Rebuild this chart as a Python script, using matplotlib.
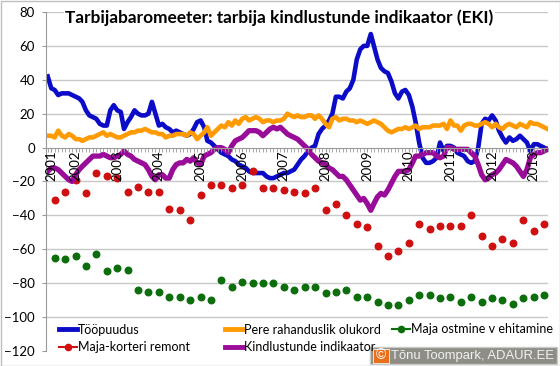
import pandas as pd
import matplotlib.pyplot as plt
import matplotlib.dates as mdates
from matplotlib.lines import Line2D
from matplotlib.patches import Rectangle

plt.rcParams['font.family'] = ['Lato', 'DejaVu Sans']

############# Data #############

# monthly series, May 2001 .. May 2013
months = pd.date_range('2001-05-01', periods=145, freq='MS')

toopuudus = [42, 35, 34, 31, 32, 32, 32, 31, 30, 29,
             27, 22, 19, 18, 17, 14, 13, 13, 22, 25,
             22, 21, 11, 15, 18, 22, 20, 19, 19, 20,
             27, 20, 13, 14, 12, 11, 9, 10, 9, 8,
             7, 8, 11, 15, 16, 12, 4, 3, 1, -1,
             -3, -4, -5, -7, -8, -10, -11, -12, -14, -15,
             -15, -15, -15, -17, -18, -18, -17, -16, -15, -15,
             -14, -13, -10, -7, -5, -2, 0, 1, 8, 11,
             13, 16, 20, 30, 30, 29, 33, 35, 40, 52,
             58, 60, 60, 67, 60, 52, 47, 45, 44, 39,
             32, 29, 33, 34, 31, 24, 15, 3, -6, -9,
             -9, -8, -6, 3, -2, 1, 1, 0, -3, -4,
             -5, -8, -9, -8, 0, 14, 17, 16, 19, 16,
             10, 6, 3, 6, 4, 5, 7, 5, 3, -2,
             2, 2, 1, 0, -1]

pere = [7, 7, 6, 10, 7, 6, 8, 7, 5, 5,
        4, 5, 6, 6, 7, 8, 9, 7, 8, 7,
        6, 6, 7, 8, 9, 9, 10, 10, 11, 10,
        9, 9, 8, 8, 6, 7, 7, 8, 8, 8,
        7, 9, 8, 5, 7, 9, 12, 7, 9, 11,
        13, 12, 15, 13, 16, 14, 17, 18, 16, 17,
        18, 17, 15, 16, 16, 15, 16, 16, 17, 20,
        19, 18, 19, 18, 18, 19, 19, 17, 19, 17,
        14, 12, 17, 18, 16, 17, 17, 16, 16, 15,
        16, 15, 14, 15, 16, 15, 14, 12, 10, 9,
        10, 11, 11, 12, 11, 12, 13, 11, 12, 12,
        12, 13, 13, 13, 14, 11, 16, 13, 13, 10,
        13, 14, 14, 13, 13, 14, 15, 14, 12, 14,
        12, 11, 13, 14, 13, 12, 14, 13, 12, 15,
        14, 14, 13, 12, 11]

kindlustunne = [-14, -12, -12, -13, -15, -17, -19, -20, -16, -13,
                -11, -9, -7, -5, -5, -5, -4, -5, -6, -6,
                -5, -4, -2, -4, -5, -7, -8, -9, -10, -13,
                -17, -19, -16, -16, -18, -18, -13, -10, -9, -9,
                -7, -8, -6, -9, -10, -5, -4, -3, -1, 0,
                0, -1, -3, 1, 4, 5, 6, 8, 10, 10,
                10, 9, 7, 9, 11, 12, 11, 12, 10, 8,
                7, 6, 5, 3, 1, -1, -4, -6, -8, -9,
                -10, -12, -13, -15, -17, -17, -19, -22, -25, -28,
                -31, -30, -33, -37, -33, -29, -27, -28, -25, -21,
                -17, -14, -14, -14, -13, -9, -5, -5, -4, -3,
                -3, -3, -5, -6, -5, 0, 0, -1, -1, -1,
                -1, -1, -3, -5, -10, -16, -19, -18, -16, -15,
                -13, -10, -7, -8, -9, -11, -14, -17, -13, -6,
                -4, -3, -3, -2, -1]

# quarterly series, Jul 2001 .. Apr 2013
quarters = pd.date_range('2001-07-01', periods=48, freq='3MS')

maja_ostmine = [-65, -66, -64, -70, -63, -73, -71, -72, -84, -85,
                -85, -88, -88, -90, -88, -90, -78, -82, -79, -80,
                -80, -80, -82, -84, -82, -82, -86, -85, -84, -88,
                -88, -91, -93, -93, -90, -87, -87, -89, -88, -91,
                -88, -91, -89, -90, -92, -89, -88, -87]

remont = [-31, -26, -19, -27, -15, -17, -18, -26, -23, -26,
          -26, -36, -37, -43, -28, -22, -22, -24, -22, -14,
          -24, -24, -25, -26, -27, -24, -37, -33, -40, -45,
          -47, -58, -64, -61, -56, -45, -48, -46, -46, -46,
          -40, -52, -58, -54, -56, -43, -49, -45]

year_ticks = pd.to_datetime(['2001-06-01'] + [f'{y}-01-01' for y in range(2002, 2014)])
year_labels = [str(y) for y in range(2001, 2014)]

############# Plot #############

c_blue = '#0B0BC8'
c_orange = '#FF9A00'
c_purple = '#990C99'
c_red = '#D01010'
c_green = '#0B6E0B'
c_axis = '#9A9A9A'

fig = plt.figure(figsize=(5.6, 3.66), dpi=100)
ax = fig.add_axes([46 / 560, 1 - 351 / 366, 502 / 560, 339 / 366])

for g in range(-100, 81, 20):
    if g != 0:
        ax.axhline(g, color='#C8C8C8', lw=1, zorder=1)

ax.plot(months, toopuudus, color=c_blue, lw=3.3, solid_joinstyle='round', zorder=2)
ax.plot(months, pere, color=c_orange, lw=3.3, solid_joinstyle='round', zorder=2)
ax.plot(quarters, maja_ostmine, ls='none', marker='o', ms=4.7, color=c_green, zorder=2)
ax.plot(quarters, remont, ls='none', marker='o', ms=4.7, color=c_red, zorder=2)
ax.plot(months, kindlustunne, color=c_purple, lw=3.8, solid_joinstyle='round', zorder=2)

ax.set_ylim(-120, 80)
ax.set_yticks(range(-120, 81, 20))
ax.set_xlim(pd.Timestamp('2001-04-16'), pd.Timestamp('2013-05-05'))
ax.set_xticks(year_ticks)
ax.set_xticklabels(year_labels)
ax.xaxis.set_minor_locator(mdates.MonthLocator())
ax.xaxis.set_zorder(3)  # year labels sit on top of the lines

ax.spines['bottom'].set_position(('data', 0))
ax.spines['top'].set_visible(False)
ax.spines['right'].set_visible(False)
for s in ['bottom', 'left']:
    ax.spines[s].set_color(c_axis)
    ax.spines[s].set_zorder(2.5)

ax.tick_params(axis='x', which='both', length=3, color=c_axis, pad=-1, labelsize=9.5,
               labelrotation=90)
ax.tick_params(axis='y', length=3, color=c_axis, pad=5, labelsize=9.5)

fig.text(279.5 / 560, 1 - 18 / 366, 'Tarbijabaromeeter: tarbija kindlustunde indikaator (EKI)',
         ha='center', va='center', fontsize=12.4, fontweight='bold',
         bbox=dict(facecolor='white', edgecolor='none', pad=1))

############# Legend #############

h_blue = Line2D([], [], color=c_blue, lw=3.5)
h_orange = Line2D([], [], color=c_orange, lw=3.5)
h_purple = Line2D([], [], color=c_purple, lw=3.5)
h_red = Line2D([], [], color=c_red, lw=1.5, marker='o', ms=4.5)
h_green = Line2D([], [], color=c_green, lw=1.5, marker='o', ms=4.5)

leg_kw = dict(frameon=False, fontsize=9, handlelength=1.4, handletextpad=0.15,
              labelspacing=0.45, borderpad=0, borderaxespad=0, loc='center left')
fig.legend([h_blue, h_red], ['Tööpuudus', 'Maja-korteri remont'],
           bbox_to_anchor=(59 / 560, 1 - 338.5 / 366), **leg_kw)
fig.legend([h_orange, h_purple], ['Pere rahanduslik olukord', 'Kindlustunde indikaator'],
           bbox_to_anchor=(225 / 560, 1 - 338.5 / 366), **leg_kw)
fig.legend([h_green], ['Maja ostmine v ehitamine'],
           bbox_to_anchor=(392 / 560, 1 - 329 / 366), **leg_kw)

############# Credit box and border #############

fig.add_artist(Rectangle((370 / 560, 1 - 364 / 366), 187 / 560, 17 / 366,
                         transform=fig.transFigure, facecolor='#8E8E86', edgecolor='#C8C8C8', lw=1))
fig.add_artist(Rectangle((373 / 560, 1 - 362.5 / 366), 16 / 560, 14 / 366,
                         transform=fig.transFigure, facecolor='#E8701A', edgecolor='#F4F4F4', lw=0.6))
fig.text(381 / 560, 1 - 355.5 / 366, '©', color='white', fontsize=10,
         ha='center', va='center', family='Liberation Sans')
fig.text(391 / 560, 1 - 355.5 / 366, 'Tõnu Toompark, ADAUR.EE', color='#F2F2F2', fontsize=9.4,
         ha='left', va='center', family='Liberation Sans')

fig.add_artist(Rectangle((0.5 / 560, 0.5 / 366), 559 / 560, 365 / 366, transform=fig.transFigure,
                         fill=False, edgecolor='#BFBFBF', lw=1))

fig.savefig('out.png', dpi=100)
